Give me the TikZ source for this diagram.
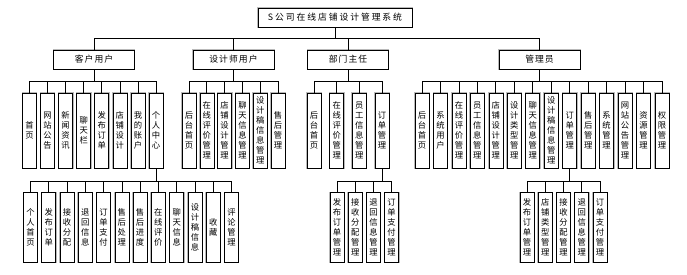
\documentclass[tikz,border=0pt]{standalone}
\usepackage{fontspec}
\setmainfont{Noto Sans CJK SC}
\newfontfamily\widecjk[LetterSpace=22]{Noto Sans CJK SC}
\newfontfamily\midcjk[LetterSpace=12]{Noto Sans CJK SC}
\begin{document}
\begin{tikzpicture}[x=1pt,y=-1pt,
  box/.style={draw=black, line width=0.6pt, preaction={draw=gray!55, line width=1.8pt}, fill=white, inner sep=0pt, align=center},
  hbox/.style={box, minimum width=81pt, minimum height=19pt, font=\midcjk\fontsize{8.8}{10}\selectfont},
  vbox/.style={box, minimum width=14pt, minimum height=75pt, font=\fontsize{8.3}{10}\selectfont},
  wbox/.style={vbox, minimum height=70pt},
  link/.style={draw=black, line width=0.7pt}]
\useasboundingbox (0,0) rectangle (687,274);
% root
\node[box, minimum width=154pt, minimum height=19pt, font=\widecjk\fontsize{8.8}{10}\selectfont] (root) at (335,17.5) {S公司在线店铺设计管理系统};
% level 1
\node[hbox] (cust) at (94,59.5) {客户用户};
\node[hbox] (des) at (233.5,59.5) {设计师用户};
\node[hbox] (dept) at (348,59.5) {部门主任};
\node[hbox] (adm) at (539.5,59.5) {管理员};
\foreach \c in {cust,des,dept,adm}
  \draw[link] (root.south) -- ++(0,11) -| (\c.north);
% customer children
\foreach \t [count=\i] in {{首\\页},{网\\站\\公\\告},{新\\闻\\资\\讯},{聊\\天\\栏},{发\\布\\订\\单},{店\\铺\\设\\计},{我\\的\\账\\户},{个\\人\\中\\心}}{
  \node[vbox] (cu\i) at ({29.5+18.07*(\i-1)},130.5) {\t};
  \draw[link] (cust.south) -- ++(0,12.5) -| (cu\i.north);
}
% designer children
\foreach \t [count=\i] in {{后\\台\\首\\页},{在\\线\\评\\价\\管\\理},{店\\铺\\设\\计\\管\\理},{聊\\天\\信\\息\\管\\理},{设\\计\\稿\\信\\息\\管\\理},{售\\后\\管\\理}}{
  \node[vbox] (de\i) at ({189+17.8*(\i-1)},130.5) {\t};
  \draw[link] (des.south) -- ++(0,12.5) -| (de\i.north);
}
% dept children
\foreach \t [count=\i] in {{后\\台\\首\\页},{在\\线\\评\\价\\管\\理},{员\\工\\信\\息\\管\\理},{订\\单\\管\\理}}{
  \node[vbox] (dp\i) at ({314+22.67*(\i-1)},130.5) {\t};
  \draw[link] (dept.south) -- ++(0,12.5) -| (dp\i.north);
}
% admin children
\foreach \t [count=\i] in {{后\\台\\首\\页},{系\\统\\用\\户},{在\\线\\评\\价\\管\\理},{员\\工\\信\\息\\管\\理},{店\\铺\\设\\计\\管\\理},{设\\计\\类\\型\\管\\理},{聊\\天\\信\\息\\管\\理},{设\\计\\稿\\信\\息\\管\\理},{订\\单\\管\\理},{售\\后\\管\\理},{系\\统\\管\\理},{网\\站\\公\\告\\管\\理},{资\\源\\管\\理},{权\\限\\管\\理}}{
  \node[vbox] (ad\i) at ({422+18.46*(\i-1)},130.5) {\t};
  \draw[link] (adm.south) -- ++(0,12.5) -| (ad\i.north);
}
% personal center children
\foreach \t [count=\i] in {{个\\人\\首\\页},{发\\布\\订\\单},{接\\收\\分\\配},{退\\回\\信\\息},{订\\单\\支\\付},{售\\后\\处\\理},{售\\后\\进\\度},{在\\线\\评\\价},{聊\\天\\信\\息},{设\\计\\稿\\信\\息},{收\\藏},{评\\论\\管\\理}}{
  \node[wbox] (pc\i) at ({30.5+18.27*(\i-1)},227.5) {\t};
  \draw[link] (cu8.south) -- ++(0,13) -| (pc\i.north);
}
% dept order children
\foreach \t [count=\i] in {{发\\布\\订\\单\\管\\理},{接\\收\\分\\配\\管\\理},{退\\回\\信\\息\\管\\理},{订\\单\\支\\付\\管\\理}}{
  \node[wbox] (do\i) at ({337+18.2*(\i-1)},227.5) {\t};
  \draw[link] (dp4.south) -- ++(0,13) -| (do\i.north);
}
% admin order children
\foreach \t [count=\i] in {{发\\布\\订\\单\\管\\理},{店\\铺\\类\\型\\管\\理},{接\\收\\分\\配\\管\\理},{退\\回\\信\\息\\管\\理},{订\\单\\支\\付\\管\\理}}{
  \node[wbox] (ao\i) at ({527+18.25*(\i-1)},227.5) {\t};
  \draw[link] (ad9.south) -- ++(0,13) -| (ao\i.north);
}
\end{tikzpicture}
\end{document}
